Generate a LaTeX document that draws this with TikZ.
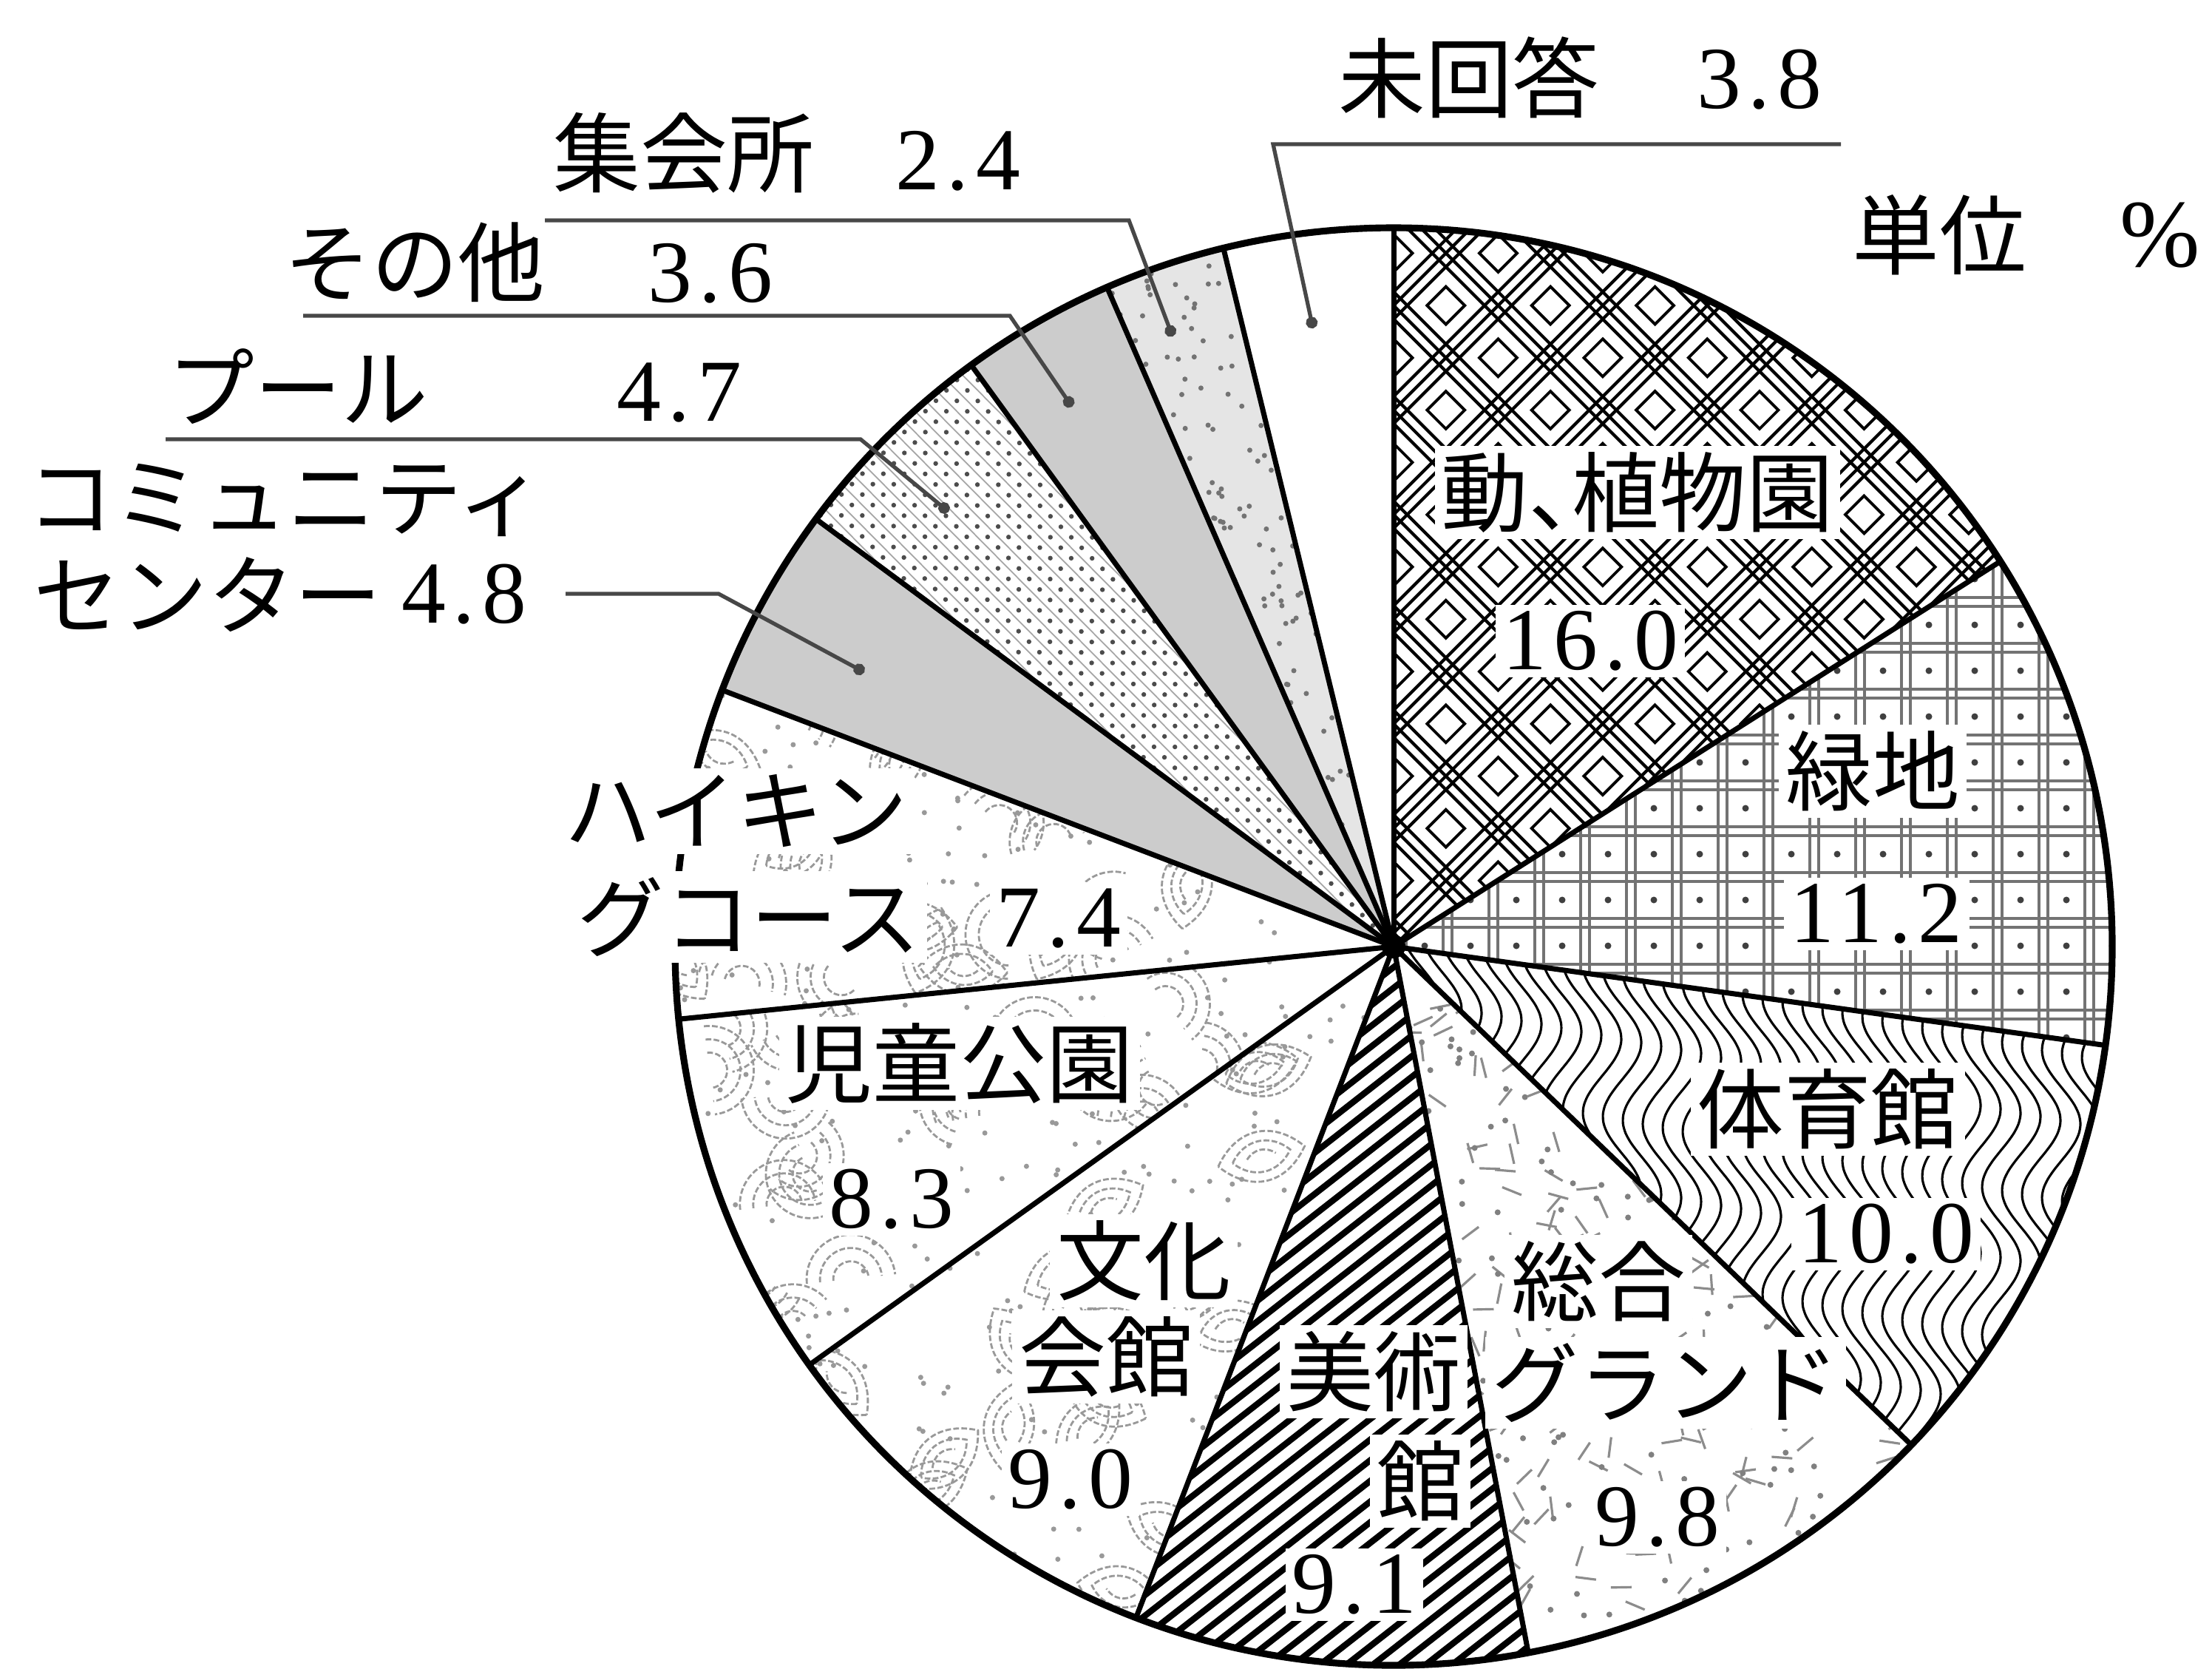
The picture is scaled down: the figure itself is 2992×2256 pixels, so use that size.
\documentclass[tikz,border=0pt]{standalone}
\usepackage{fontspec}
\setmainfont{Liberation Serif}
\newfontfamily\jp{Noto Sans CJK JP}
\newfontfamily\numf[LetterSpace=8]{Liberation Serif}
\usetikzlibrary{arrows.meta}
\newcommand\sect[2]{(C) -- ++(#1:972) arc[start angle=#1,end angle=#2,radius=972] -- cycle}
\newcommand\eyeshape{%
  \draw[soft] (-60,0) .. controls (-25,45) and (25,45) .. (60,0) .. controls (25,-45) and (-25,-45) .. (-60,0);
  \draw[soft] (-40,0) .. controls (-18,28) and (18,28) .. (40,0) .. controls (18,-28) and (-18,-28) .. (-40,0);
  \draw[soft] (-20,0) .. controls (-8,12) and (8,12) .. (20,0);}
\newcommand\arcset{%
  \draw[soft] (-60,0) arc[start angle=180,end angle=0,radius=60];
  \draw[soft] (-42,0) arc[start angle=180,end angle=0,radius=42];
  \draw[soft] (-24,0) arc[start angle=180,end angle=0,radius=24];}
\begin{document}
\begin{tikzpicture}[x=0.01cm,y=0.01cm,
  lab/.style={font=\jp\fontsize{33.5}{40}\selectfont,inner sep=0pt},
  num/.style={font=\numf\fontsize{34}{40}\selectfont,inner sep=0pt},
  knock/.style={fill=white,inner sep=2.5pt},
  leader/.style={draw=black!72,line width=1.5pt,-{Circle[length=4.5pt]}},
  sep/.style={line width=2pt,line cap=round},
  soft/.style={draw=black!40,line width=0.8pt,dash pattern=on 2.2pt off 0.9pt},
  grn/.style={draw=black!55,line width=0.9pt}]
\useasboundingbox (0,0) rectangle (2992,-2256);
\fill[white] (0,0) rectangle (2992,-2256);
\coordinate (C) at (1885,-1280);
\pgfmathsetseed{11}
% 1 zoo
\begin{scope}
\clip \sect{90}{32.4};
\begin{scope}[shift={(C)},rotate=45]
 \foreach \k in {-11,...,11}{
   \foreach \o in {0,13,26}{
     \draw[line width=1.2pt] (-1100,\k*100+\o) -- (1100,\k*100+\o);
     \draw[line width=1.2pt] (\k*100+\o,-1100) -- (\k*100+\o,1100);
   }}
 \foreach \i in {-11,...,10}{ \foreach \j in {-11,...,10}{
   \draw[line width=1.1pt] (\i*100+45,\j*100+45) rectangle ++(36,36);
 }}
\end{scope}
\end{scope}
% 2 green
\begin{scope}
\clip \sect{32.4}{-7.9};
\foreach \k in {0,...,16}{ \foreach \o in {0,12}{
  \draw[grn] ({1890+\k*62+\o},-1450) -- ({1890+\k*62+\o},-740);}}
\foreach \k in {0,...,12}{ \foreach \o in {0,12}{
  \draw[grn] (1880,{-1440+\k*62+\o}) -- (2880,{-1440+\k*62+\o});}}
\foreach \i in {0,...,16}{ \foreach \j in {0,...,12}{
  \fill[black!75] ({1890+\i*62+37},{-1440+\j*62+37}) circle (4.5);}}
\end{scope}
% 3 gym waves
\begin{scope}
\clip \sect{-7.9}{-43.9};
\foreach \k in {0,...,36}{
  \draw[line width=0.9pt] plot[variable=\t,domain=-1990:-1260,samples=60,smooth] ({1870+\k*27+26*sin(\t*1.8+\k*9)},\t);}
\end{scope}
% 4 ground
\begin{scope}
\clip \sect{-43.9}{-79.2};
\foreach \i in {1,...,140}{
  \pgfmathsetmacro\aa{-79.2+rnd*35.3}
  \pgfmathsetmacro\rr{972*sqrt(0.01+0.99*rnd)}
  \pgfmathsetmacro\oo{rnd*180}
  \draw[black!45,line width=0.9pt] ([shift={(\aa:\rr)}]C) -- ++(\oo:28);}
\foreach \i in {1,...,120}{
  \pgfmathsetmacro\aa{-79.2+rnd*35.3}
  \pgfmathsetmacro\rr{972*sqrt(0.01+0.99*rnd)}
  \fill[black!50] ([shift={(\aa:\rr)}]C) circle (4);}
\end{scope}
% 5 museum
\begin{scope}
\clip \sect{-79.2}{-111};
\begin{scope}[shift={(C)},rotate=38]
\foreach \k in {-42,...,1}{ \draw[line width=2.4pt] (-950,\k*22) -- (60,\k*22); }
\end{scope}
\end{scope}
% 6 culture
\begin{scope}
\clip \sect{-111}{-144.4};
\foreach \i in {1,...,22}{
  \pgfmathsetmacro\aa{-144.4+rnd*33.4}
  \pgfmathsetmacro\rr{972*sqrt(0.05+0.95*rnd)}
  \pgfmathsetmacro\oo{rnd*180}
  \begin{scope}[shift={(C)}]\begin{scope}[shift={(\aa:\rr)},rotate=\oo]\eyeshape\end{scope}\end{scope}}
\foreach \i in {1,...,90}{
  \pgfmathsetmacro\aa{-144.4+rnd*33.4}
  \pgfmathsetmacro\rr{972*sqrt(0.01+0.99*rnd)}
  \fill[black!40] ([shift={(\aa:\rr)}]C) circle (3.5);}
\end{scope}
% 7 park
\begin{scope}
\clip \sect{-144.4}{-174.2};
\foreach \i in {1,...,22}{
  \pgfmathsetmacro\aa{-174.2+rnd*29.8}
  \pgfmathsetmacro\rr{972*sqrt(0.05+0.95*rnd)}
  \pgfmathsetmacro\oo{rnd*360}
  \begin{scope}[shift={(C)}]\begin{scope}[shift={(\aa:\rr)},rotate=\oo]\arcset\end{scope}\end{scope}}
\foreach \i in {1,...,90}{
  \pgfmathsetmacro\aa{-174.2+rnd*29.8}
  \pgfmathsetmacro\rr{972*sqrt(0.01+0.99*rnd)}
  \fill[black!40] ([shift={(\aa:\rr)}]C) circle (3.5);}
\end{scope}
% 8 hiking
\begin{scope}
\clip \sect{-174.2}{-200.9};
\foreach \i in {1,...,10}{
  \pgfmathsetmacro\aa{-200.9+rnd*26.7}
  \pgfmathsetmacro\rr{972*sqrt(0.05+0.95*rnd)}
  \pgfmathsetmacro\oo{rnd*180}
  \begin{scope}[shift={(C)}]\begin{scope}[shift={(\aa:\rr)},rotate=\oo]\eyeshape\end{scope}\end{scope}}
\foreach \i in {1,...,10}{
  \pgfmathsetmacro\aa{-200.9+rnd*26.7}
  \pgfmathsetmacro\rr{972*sqrt(0.05+0.95*rnd)}
  \pgfmathsetmacro\oo{rnd*360}
  \begin{scope}[shift={(C)}]\begin{scope}[shift={(\aa:\rr)},rotate=\oo]\arcset\end{scope}\end{scope}}
\foreach \i in {1,...,80}{
  \pgfmathsetmacro\aa{-200.9+rnd*26.7}
  \pgfmathsetmacro\rr{972*sqrt(0.01+0.99*rnd)}
  \fill[black!40] ([shift={(\aa:\rr)}]C) circle (3.5);}
\end{scope}
% 9 community
\fill[black!20] \sect{-200.9}{-216.5};
% 10 pool
\begin{scope}
\clip \sect{-216.5}{-234};
\begin{scope}[shift={(C)},rotate=-225.25]
 \foreach \j in {-7,...,7}{ \draw[black!35,line width=0.5pt] (0,\j*20+10) -- (1000,\j*20+10); }
 \foreach \i in {1,...,49}{ \foreach \j in {-7,...,7}{ \fill[black!70] (\i*20,\j*20) circle (3.2); }}
\end{scope}
\end{scope}
% 11 other
\fill[black!20] \sect{-234}{-246.5};
% 12 hall
\fill[black!10] \sect{-246.5}{-256.3};
\begin{scope}
\clip \sect{-246.5}{-256.3};
\foreach \i in {1,...,90}{
  \pgfmathsetmacro\aa{-256.3+rnd*9.8}
  \pgfmathsetmacro\rr{972*sqrt(0.01+0.99*rnd)}
  \fill[black!55] ([shift={(\aa:\rr)}]C) circle (3.5);}
\end{scope}
% separators and outline
\foreach \a in {90,32.4,-7.9,-43.9,-79.2,-111,-144.4,-174.2,-200.9,-216.5,-234,-246.5,-256.3}{
  \draw[sep] (C) -- ++(\a:972);}
\draw[line width=2.6pt] (C) circle (972);
\fill (C) circle (16);
% inner labels
\node[lab,knock] (zoo) at (2215,-666) {動、\kern-0.5em植物園};
\node[num,knock] (zooN) at (2151,-867) {16.0};
\node[lab,knock] (grn) at (2533,-1043) {緑地};
\node[num,knock] (grnN) at (2538,-1236) {11.2};
\node[lab,knock] (gym) at (2472,-1500) {体育館};
\node[num,knock] (gymN) at (2551,-1669) {10.0};
\node[lab,knock] (gra) at (2162,-1733) {総合};
\node[lab,knock] (grb) at (2253,-1870) {グランド};
\node[num,knock] (grN) at (2242,-2052) {9.8};
\node[lab,knock] (mua) at (1858,-1855) {美術};
\node[lab,knock] (mub) at (1921,-2003) {館};
\node[num,knock] (muN) at (1832,-2143) {9.1};
\node[lab,knock] (cua) at (1547,-1705) {文化};
\node[lab,knock] (cub) at (1496,-1835) {会館};
\node[num,knock] (cuN) at (1448,-2001) {9.0};
\node[lab,knock] (pk) at (1298,-1438) {児童公園};
\node[num,knock] (pkN) at (1206,-1622) {8.3};
\node[lab,knock] (hka) at (996,-1097) {ハイキン};
\node[lab,knock] (hkb) at (1013,-1240) {グコース};
\node[num,knock] (hkN) at (1432,-1242) {7.4};
% outer labels
\node[lab] (na) at (1987,-105) {未回答};
\node[num] (naN) at (2380,-108) {3.8};
\node[lab] (ha) at (925,-207) {集会所};
\node[num] (haN) at (1296,-218) {2.4};
\node[lab] (ot) at (561,-355) {その他};
\node[num] (otN) at (961,-370) {3.6};
\node[lab] (po) at (403,-523) {プール};
\node[num] (poN) at (919,-531) {4.7};
\node[lab] (coa) at (386,-676) {コミュニティ};
\node[lab] (cob) at (281,-804) {センター};
\node[num] (coN) at (628,-804) {4.8};
\node[lab] (unit) at (2623,-318) {単位};
\node[font=\fontsize{37}{40}\selectfont,inner sep=0pt] (pct) at (2922,-318) {\%};
% leaders
\coordinate (na0) at (2490,-195); \coordinate (na1) at (1722,-195); \coordinate (na2) at (1776,-444);
\coordinate (ha0) at (737,-298); \coordinate (ha1) at (1527,-298); \coordinate (ha2) at (1586,-455);
\coordinate (ot0) at (410,-427); \coordinate (ot1) at (1366,-427); \coordinate (ot2) at (1450,-550);
\coordinate (po0) at (224,-594); \coordinate (po1) at (1164,-594); \coordinate (po2) at (1283,-692);
\coordinate (co0) at (765,-803); \coordinate (co1) at (972,-803); \coordinate (co2) at (1169,-909);
\draw[leader] (na0) -- (na1) -- (na2);
\draw[leader] (ha0) -- (ha1) -- (ha2);
\draw[leader] (ot0) -- (ot1) -- (ot2);
\draw[leader] (po0) -- (po1) -- (po2);
\draw[leader] (co0) -- (co1) -- (co2);
\end{tikzpicture}
\end{document}
